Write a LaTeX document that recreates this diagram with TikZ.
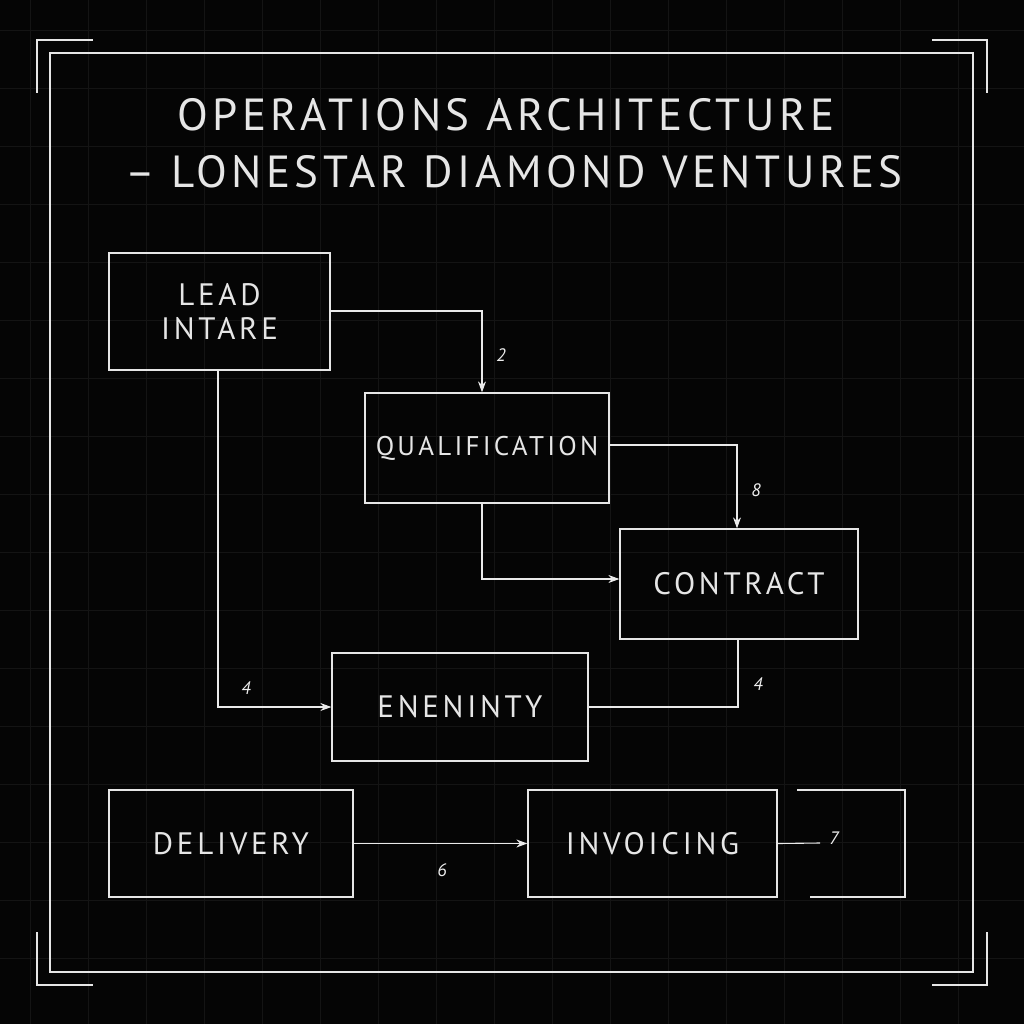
\documentclass[tikz,border=0pt]{standalone}
\usepackage{fontspec}
\setmainfont{PT Sans}
\newfontfamily\lbl[LetterSpace=12]{PT Sans}
\newfontfamily\ttl[LetterSpace=10]{PT Sans}
\usetikzlibrary{arrows.meta}
\definecolor{bg}{HTML}{050505}
\definecolor{ln}{HTML}{E6E6E6}
\tikzset{
  bx/.style={draw=ln, line width=1.3pt},
  txt/.style={text=ln, font=\lbl\fontsize{31}{36}\selectfont, align=center},
  con/.style={draw=ln!85, line width=1.1pt},
  arr/.style={con, -{Stealth[length=11pt,width=8pt]}},
  num/.style={text=ln!70, font=\fontsize{18}{20}\selectfont\itshape},
}
\begin{document}
\begin{tikzpicture}[x=1pt,y=-1pt]
\fill[bg] (0,0) rectangle (1024,1024);
\useasboundingbox (0,0) rectangle (1024,1024);
\foreach \g in {30,88,...,1000} {
  \draw[white!6!bg, line width=0.6pt] (\g,0) -- (\g,1024);
  \draw[white!6!bg, line width=0.6pt] (0,\g) -- (1024,\g);
}
\draw[ln, line width=1.2pt] (50,53) rectangle (973,972);
\draw[ln, line width=1.2pt] (37,93) -- (37,40) -- (93,40);
\draw[ln, line width=1.2pt] (932,40) -- (987,40) -- (987,93);
\draw[ln, line width=1.2pt] (37,932) -- (37,985) -- (93,985);
\draw[ln, line width=1.2pt] (932,985) -- (987,985) -- (987,932);
\node[text=ln, font=\ttl\fontsize{45}{52}\selectfont] (t1) at (506,115) {OPERATIONS ARCHITECTURE};
\node[text=ln, font=\ttl\fontsize{45}{52}\selectfont] (t2) at (514,172) {– LONESTAR DIAMOND VENTURES};

\node[bx, minimum width=221pt, minimum height=117pt] (lead) at (219.5,311.5) {};
\node[txt] at (lead) {LEAD\\[-2pt]INTARE};
\node[bx, minimum width=244pt, minimum height=110pt] (qual) at (487,448) {};
\node[txt, font=\lbl\fontsize{27}{32}\selectfont] at (qual) {QUALIFICATION};
\node[bx, minimum width=238pt, minimum height=110pt] (cont) at (739,584) {};
\node[txt] at (cont) {CONTRACT};
\node[bx, minimum width=256pt, minimum height=108pt] (enen) at (460,707) {};
\node[txt] at (enen) {ENENINTY};
\node[bx, minimum width=244pt, minimum height=107pt] (deli) at (231,843.5) {};
\node[txt] at (deli) {DELIVERY};
\node[bx, minimum width=249pt, minimum height=107pt] (inv) at (652.5,843.5) {};
\node[txt] at (inv) {INVOICING};
\draw[ln, line width=1.3pt] (797,790) -- (905,790) -- (905,897) -- (810,897);

\coordinate (c7) at (820,843);
\draw[arr] (lead.east |- 0,311) -| (qual.north -| 482,0);
\draw[arr] (qual.east |- 0,445) -| (cont.north -| 737,0);
\draw[arr] (qual.south -| 482,0) |- (cont.west |- 0,579);
\draw[arr] (lead.south -| 218,0) |- (enen.west);
\draw[con] (cont.south -| 738,0) |- (enen.east);
\draw[arr] (deli.east) -- (inv.west);
\draw[con] (inv.east) -- (c7);
\node[num] at (501,355) {2};
\node[num] at (756,490) {8};
\node[num] at (246,688) {4};
\node[num] at (758,684) {4};
\node[num] at (442,870) {6};
\node[num] at (834,838) {7};
\end{tikzpicture}
\end{document}
